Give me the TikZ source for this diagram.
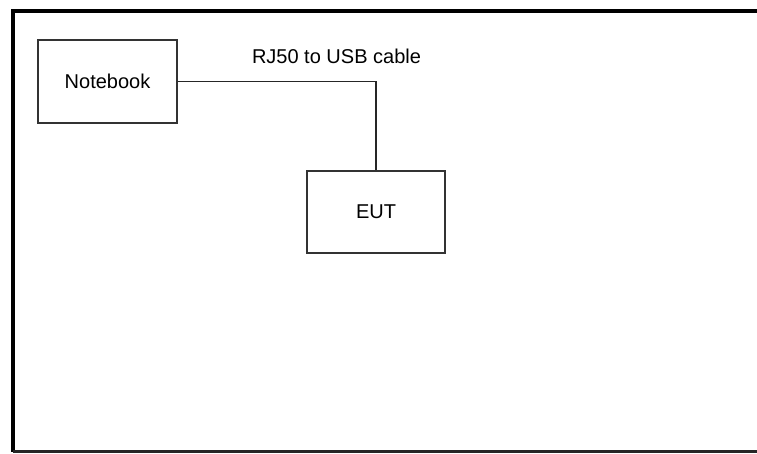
\documentclass[tikz,border=0pt]{standalone}
\usepackage{fontspec}
\setmainfont{Liberation Sans}
\begin{document}
\begin{tikzpicture}[x=1pt,y=-1pt,
		unit/.style={draw=black!80,line width=1.4pt,minimum width=139pt,minimum height=83pt,inner sep=0pt,font=\fontsize{20}{24}\selectfont},
		cable/.style={draw=black!85,line width=1.1pt},
		lbl/.style={inner sep=0pt,font=\fontsize{20}{24}\selectfont}]
		\useasboundingbox (0,0) rectangle (757,453);
		
		% frame
		\draw[line width=4pt] (12.5,451.5) -- (12.5,11) -- (757,11);
		\draw[line width=2.5pt,black!85] (12.5,451.5) -- (757,451.5);
		
		% units
		\node[unit] (nb) at (107.5,81.5) {Notebook};
		\node[unit,minimum width=138pt,minimum height=82pt] (eut) at (376,212) {EUT};
		
		% cable
		\draw[cable] (nb.east) -| (eut.north);
		\node[lbl,anchor=base] (rj) at (336.5,63) {RJ50 to USB cable};
	\end{tikzpicture}
\end{document}
